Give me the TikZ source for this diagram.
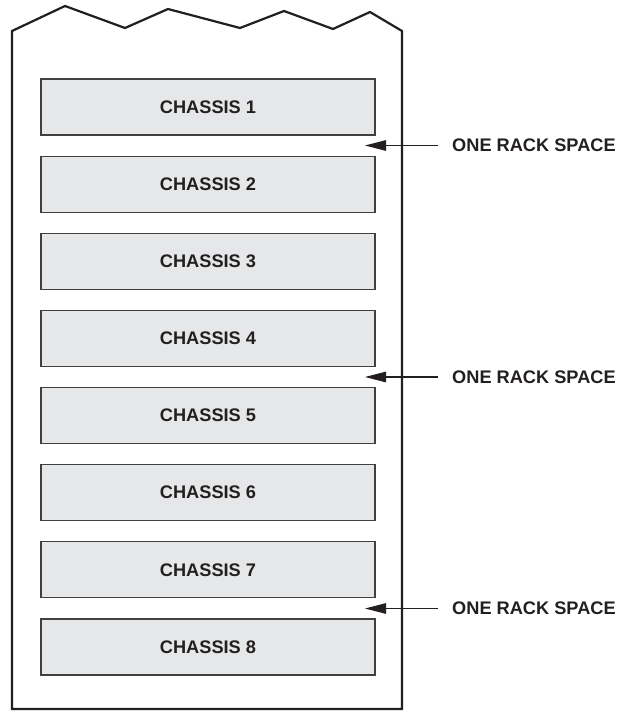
\documentclass[tikz,border=0pt]{standalone}
\usepackage{fontspec}
\setmainfont{Liberation Sans}
\usetikzlibrary{arrows.meta}
\definecolor{boxfill}{HTML}{E6E7E8}
\definecolor{boxline}{HTML}{404040}
\definecolor{txt}{HTML}{231F20}
\tikzset{
  chassis/.style={draw=boxline, line width=1.2pt, fill=boxfill, rectangle,
    minimum width=334pt, minimum height=56pt, inner sep=0pt,
    font=\fontsize{18.2}{22}\selectfont\bfseries, text=txt},
  ptr/.style={draw=txt, line width=1.1pt, -{Triangle[length=21pt,width=10.5pt]}},
  lbl/.style={anchor=west, inner sep=0pt, font=\fontsize{18.2}{22}\selectfont\bfseries, text=txt},
  rack/.style={draw=txt, line width=2.2pt, line join=miter}
}
\begin{document}
\begin{tikzpicture}[x=1pt,y=-1pt]
\useasboundingbox (0,0) rectangle (620,711);
\draw[rack] (12,31) -- (65,6) -- (125,28) -- (168,9) -- (240,28) -- (284,11) -- (333,29) -- (370,12) -- (402,31) -- (402,709) -- (12,709) -- cycle;
\foreach \i in {1,...,8}{
  \node[chassis] (c\i) at (208,{107+77.14*(\i-1)}) {CHASSIS \i};
}
\node[lbl] (l1) at (452,145.5) {ONE RACK SPACE};
\node[lbl] (l2) at (452,377) {ONE RACK SPACE};
\node[lbl] (l3) at (452,608.5) {ONE RACK SPACE};
\coordinate (s1) at (438,145.5); \coordinate (t1) at (365,145.5);
\coordinate (s2) at (438,377);   \coordinate (t2) at (365,377);
\coordinate (s3) at (438,608.5); \coordinate (t3) at (365,608.5);
\draw[ptr] (s1) -- (t1);
\draw[ptr] (s2) -- (t2);
\draw[ptr] (s3) -- (t3);
\end{tikzpicture}
\end{document}
